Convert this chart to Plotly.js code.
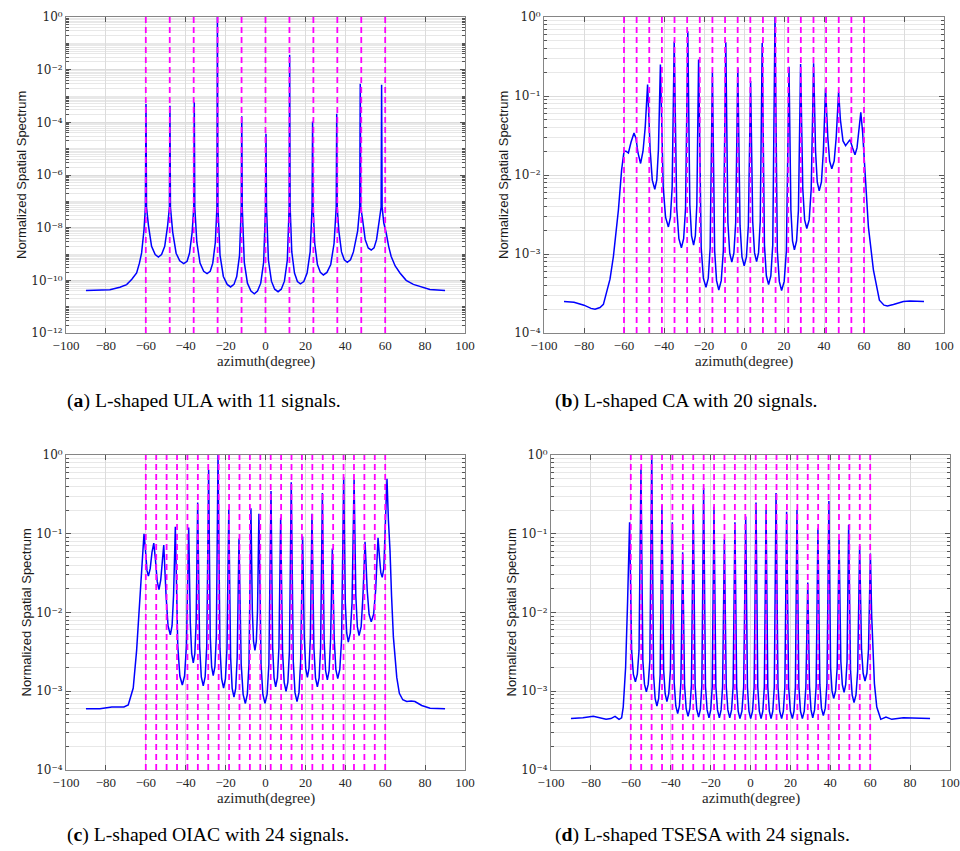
<!DOCTYPE html>
<html><head><meta charset="utf-8">
<script src="https://cdn.plot.ly/plotly-3.0.1.min.js"></script>
<style>html,body{margin:0;padding:0;background:#fff}#chart{width:960px;height:851px}</style>
</head><body><div id="chart"></div>
<script>
// ---------- Data ----------
// (a) L-shaped ULA, 11 signals
const azA = [-90,-84,-78,-73,-69.6,-67,-64.6,-63.2,-62.1,-60.9,-60.2,-59.9,
 -59.65,-58.66,-57.11,-55.3,-53.7,-52.1,-50.51,-49.06,-48.15,-47.9,
 -47.65,-46.52,-44.8,-43.0,-41.0,-39.3,-38.09,-36.76,-35.95,-35.7,
 -35.45,-34.42,-32.82,-31.0,-29.3,-27.7,-26.44,-25.14,-24.35,-24.1,
 -23.85,-22.78,-21.13,-19.2,-17.5,-15.8,-14.42,-13.02,-12.15,-11.9,
 -11.65,-10.64,-9.06,-7.3,-5.6,-4.0,-2.38,-0.92,0.0,0.25,
 0.5,1.46,2.97,4.6,6.3,7.9,9.49,10.94,11.85,12.1,
 12.35,13.18,14.53,16.0,17.5,19.2,20.85,22.38,23.35,23.6,
 23.85,24.68,26.03,27.5,29.0,30.8,32.7,34.36,35.45,35.7,
 35.95,36.76,38.09,39.5,41.0,42.6,44.07,46.2,47.25,47.5,
 47.75,48.6,49.98,51.5,53.0,54.4,55.66,57.16,57.95,58.2,
 58.45,59.3,60.5,61.7,63.0,65.0,67.4,70.5,74.1,82.4,90];
const specA = [4.1e-11,4.2e-11,4.4e-11,5.5e-11,6.9e-11,1.1e-10,1.9e-10,4.5e-10,1.1e-9,8.3e-9,6e-8,5e-4,
 6e-8,1.2e-8,1.95e-9,9.5e-10,7.7e-10,9.5e-10,1.95e-9,1.2e-8,6e-8,4.3e-4,
 6e-8,6.8e-9,1.07e-9,5.5e-10,4.3e-10,5.3e-10,1.07e-9,6.8e-9,6e-8,5.8e-4,
 6e-8,2.8e-9,4.5e-10,2.2e-10,1.8e-10,2.2e-10,4.5e-10,2.8e-9,6e-8,1,
 6e-8,8.9e-10,1.4e-10,7e-11,5.6e-11,7e-11,1.4e-10,8.9e-10,6e-8,1.7e-4,
 6e-8,4.9e-10,7.8e-11,3.9e-11,3.1e-11,3.9e-11,7.8e-11,4.9e-10,6e-8,3.7e-5,
 6e-8,5.9e-10,9.3e-11,4.6e-11,3.7e-11,4.6e-11,9.3e-11,5.9e-10,6e-8,3.7e-2,
 6e-8,1.2e-9,1.9e-10,9e-11,7.4e-11,9e-11,1.9e-10,1.2e-9,6e-8,1.07e-4,
 6e-8,2.5e-9,4e-10,2e-10,1.6e-10,2e-10,4e-10,2.5e-9,6e-8,2.1e-4,
 6e-8,7.6e-9,1.2e-9,6e-10,4.8e-10,6e-10,1.2e-9,7.6e-9,6e-8,2.9e-3,
 6e-8,2.2e-8,3.5e-9,1.7e-9,1.4e-9,1.7e-9,3.5e-9,2.2e-8,6e-8,2.7e-3,
 6e-8,1.5e-8,6.3e-9,2e-9,8e-10,3.5e-10,1.9e-10,1e-10,7e-11,4.5e-11,4.1e-11];
const doaA = [-60,-48,-36,-24,-12,0,12,24,36,48,60];

// (b) L-shaped CA, 20 signals
const azB = [-90,-85,-80,-76.5,-74.5,-72,-70.3,-68.7,-67,-65.3,
 -64,-62.8,-61.2,-60,-59,-57.8,-56.5,-55,-54,-53,
 -51.7,-50.5,-49.4,-48.2,-46.94,-45.86,-44.6,-43.62,-42.78,-41.8,
 -40.4,-39.2,-37.8,-36.79,-35.92,-34.9,-33.64,-32.56,-31.3,-30.18,
 -29.22,-28.1,-27.09,-26.22,-25.2,-24.33,-23.58,-22.7,-21.4,-20.3,
 -19.0,-17.88,-16.92,-15.8,-14.68,-13.72,-12.6,-11.38,-10.33,-9.1,
 -8.05,-7.15,-6.1,-5.05,-4.15,-3.1,-1.98,-1.02,0.1,1.22,
 2.18,3.3,4.35,5.25,6.3,7.28,8.12,9.1,10.22,11.18,
 12.3,13.42,14.38,15.5,16.66,17.65,18.8,20.1,21.2,22.5,
 23.45,24.26,25.2,26.29,27.22,28.3,29.39,30.32,31.4,32.59,
 33.61,34.8,35.78,36.62,37.6,38.72,39.68,40.8,41.9,42.82,
 43.9,45.09,46.11,47.3,48.2,49.5,50.8,52,53,54.3,
 55.5,56.5,57.5,58.4,59.3,60.5,62.2,64.7,67.7,70,
 71.7,74.7,79.7,83,90];
const specB = [2.5e-4,2.45e-4,2.25e-4,2.05e-4,2.0e-4,2.1e-4,2.3e-4,3.3e-4,4.8e-4,9.3e-4,
 1.8e-3,3.6e-3,1.15e-2,2.0e-2,2.0e-2,1.9e-2,2.6e-2,3.4e-2,2.9e-2,1.9e-2,
 1.4e-2,2.0e-2,4.0e-2,0.14,2.1e-2,8.6e-3,6.6e-3,8.6e-3,2.1e-2,0.25,
 7e-3,2.9e-3,2.2e-3,2.9e-3,7e-3,0.49,3.8e-3,1.56e-3,1.2e-3,1.56e-3,
 3.8e-3,0.66,4.2e-3,1.7e-3,1.3e-3,1.7e-3,4.2e-3,0.29,1.2e-3,4.9e-4,
 3.8e-4,4.9e-4,1.2e-3,0.2,1.1e-3,4.6e-4,3.5e-4,4.6e-4,1.1e-3,0.48,
 2.5e-3,1.03e-3,7.9e-4,1.03e-3,2.5e-3,0.23,2.3e-3,9.2e-4,7.1e-4,9.2e-4,
 2.3e-3,0.155,2.6e-3,1.04e-3,8e-4,1.04e-3,2.6e-3,0.47,1.3e-3,5.3e-4,
 4.1e-4,5.3e-4,1.3e-3,1.0,1.1e-3,4.5e-4,3.45e-4,4.5e-4,1.1e-3,0.235,
 3.6e-3,1.47e-3,1.13e-3,1.47e-3,3.6e-3,0.254,6.7e-3,2.7e-3,2.1e-3,2.7e-3,
 6.7e-3,0.26,2e-2,8.2e-3,6.3e-3,8.2e-3,2e-2,0.125,3e-2,1.5e-2,
 1.2e-2,1.5e-2,3e-2,0.113,5e-2,2.7e-2,2.35e-2,2.6e-2,2.8e-2,2.2e-2,
 1.8e-2,2.2e-2,3.8e-2,6.2e-2,3.5e-2,9.5e-3,2.2e-3,6.3e-4,2.6e-4,2.25e-4,
 2.2e-4,2.3e-4,2.5e-4,2.55e-4,2.5e-4];
const doaB = [-60,-53.68,-47.37,-41.05,-34.74,-28.42,-22.11,-15.79,-9.47,-3.16,
 3.16,9.47,15.79,22.11,28.42,34.74,41.05,47.37,53.68,60];

// (c) L-shaped OIAC, 24 signals
const azC = [-90,-83,-77,-71,-68.8,-66.3,-64.6,-62.9,-61.7,-60.9,
 -60.0,-59.4,-58.7,-57.8,-56.9,-56.0,-55.2,-54.3,-53.4,-52.5,
 -51.7,-51.0,-49.85,-48.86,-47.7,-46.83,-46.08,-45.2,-43.98,-42.93,
 -41.7,-40.58,-39.62,-38.5,-37.7,-37.0,-36.2,-35.43,-34.77,-34.0,
 -33.02,-32.18,-31.2,-30.26,-29.45,-28.5,-27.7,-27.0,-26.2,-25.36,
 -24.64,-23.8,-22.82,-21.98,-21.0,-20.09,-19.31,-18.4,-17.49,-16.71,
 -15.8,-14.93,-14.18,-13.3,-12.18,-11.22,-10.1,-9.12,-8.28,-7.3,
 -6.6,-6.0,-5.3,-4.6,-4.0,-3.3,-2.23,-1.32,-0.25,0.8,
 1.7,2.76,3.58,4.28,5.1,5.98,6.73,7.6,8.55,9.36,
 10.3,11.21,11.99,12.9,13.92,14.79,15.8,16.78,17.62,18.6,
 19.44,20.16,21.0,21.8,22.5,23.3,24.25,25.06,26.0,26.88,
 27.63,28.5,29.38,30.13,31.0,31.88,32.63,33.5,34.45,35.26,
 36.2,37.25,38.15,39.2,40.0,40.7,41.5,42.52,43.39,44.4,
 45.28,46.03,46.9,47.95,48.85,49.9,50.99,51.92,53.0,54.19,
 55.21,56.4,57.1,57.8,58.5,59.3,59.9,60.9,61.6,62.4,
 63.2,64.1,65.8,67.1,68.8,70.8,73,74.9,78.3,82.5,
 90];
const specC = [6.0e-4,6.0e-4,6.3e-4,6.3e-4,6.7e-4,1.1e-3,3.3e-3,1.75e-2,6.2e-2,0.1,
 5.5e-2,3.4e-2,2.9e-2,3.6e-2,5.8e-2,7.6e-2,4.8e-2,2.5e-2,1.95e-2,2.6e-2,
 4.5e-2,7.2e-2,1.66e-2,6.8e-3,5.2e-3,6.8e-3,1.66e-2,0.123,3.8e-3,1.56e-3,
 1.2e-3,1.56e-3,3.8e-3,0.12,7.4e-3,3e-3,2.3e-3,3e-3,7.4e-3,0.25,
 3.7e-3,1.52e-3,1.17e-3,1.52e-3,3.7e-3,0.65,5e-3,2.05e-3,1.58e-3,2.05e-3,
 5e-3,1.0,3.5e-3,1.43e-3,1.1e-3,1.43e-3,3.5e-3,0.204,2.7e-3,1.09e-3,
 8.4e-4,1.09e-3,2.7e-3,0.087,2.2e-3,9.1e-4,7.0e-4,9.1e-4,2.2e-3,0.21,
 1.05e-2,4.3e-3,3.3e-3,4.3e-3,1.05e-2,0.18,2.2e-3,9.1e-4,7.0e-4,9.1e-4,
 2.2e-3,0.35,3.6e-3,1.48e-3,1.14e-3,1.48e-3,3.6e-3,0.16,3.2e-3,1.3e-3,
 1.0e-3,1.3e-3,3.2e-3,0.45,2.4e-3,9.6e-4,7.4e-4,9.6e-4,2.4e-3,0.092,
 4.8e-3,1.95e-3,1.5e-3,1.95e-3,4.8e-3,0.18,3.6e-3,1.48e-3,1.14e-3,1.48e-3,
 3.6e-3,0.33,4.5e-3,1.82e-3,1.4e-3,1.82e-3,4.5e-3,0.065,4.6e-3,1.9e-3,
 1.45e-3,1.9e-3,4.6e-3,0.52,1.34e-2,5.5e-3,4.2e-3,5.5e-3,1.34e-2,0.49,
 1.63e-2,6.6e-3,5.1e-3,6.6e-3,1.63e-2,0.079,1.9e-2,9.5e-3,7.6e-3,9.5e-3,
 1.9e-2,0.089,5.2e-2,3.2e-2,2.8e-2,3.6e-2,0.1,0.5,0.15,0.062,
 1.6e-2,4.9e-3,1.5e-3,9.4e-4,7.8e-4,7.4e-4,7.5e-4,7.4e-4,6.6e-4,6.1e-4,
 6.0e-4];
const doaCD = [-60,-54.78,-49.57,-44.35,-39.13,-33.91,-28.70,-23.48,-18.26,-13.04,-7.83,-2.61,
 2.61,7.83,13.04,18.26,23.48,28.70,33.91,39.13,44.35,49.57,54.78,60];

// (d) L-shaped TSESA, 24 signals
const azD = [-90,-84,-78.8,-75,-72.4,-70,-67.9,-65.9,-64.6,-63.8,-62.6,-61.6,-60.6,
 -59.59,-58.72,-57.7,-56.72,-55.88,-54.9,
 -53.96,-53.15,-52.2,-51.26,-50.45,-49.5,
 -48.59,-47.81,-46.9,-46.03,-45.28,-44.4,
 -43.53,-42.78,-41.9,-40.96,-40.15,-39.2,
 -38.26,-37.45,-36.5,-35.63,-34.88,-34.0,
 -33.06,-32.25,-31.3,-30.39,-29.61,-28.7,
 -27.76,-26.95,-26.0,-25.13,-24.38,-23.5,
 -22.56,-21.75,-20.8,-19.93,-19.18,-18.3,
 -17.36,-16.55,-15.6,-14.73,-13.98,-13.1,
 -12.16,-11.35,-10.4,-9.49,-8.71,-7.8,
 -6.93,-6.18,-5.3,-4.29,-3.42,-2.4,
 -1.53,-0.78,0.1,1.03,1.83,2.76,
 3.65,4.41,5.3,6.18,6.93,7.8,
 8.68,9.43,10.3,11.18,11.93,12.8,
 13.78,14.62,15.6,16.48,17.23,18.1,
 19.12,19.99,21.0,21.81,22.5,23.3,
 24.25,25.06,26.0,26.95,27.76,28.7,
 29.58,30.33,31.2,32.11,32.89,33.8,
 34.75,35.56,36.5,37.48,38.32,39.3,
 40.14,40.86,41.7,42.65,43.46,44.4,
 45.28,46.03,46.9,47.71,48.4,49.2,
 50.15,50.96,51.9,52.88,53.72,54.7,
 55.65,56.46,57.4,58.35,59.16,60.1,
 60.75,62.1,63.3,65.3,67.9,70.8,76.6,83.3,90];
const specD = [4.5e-4,4.6e-4,4.8e-4,4.6e-4,4.4e-4,4.5e-4,4.8e-4,4.4e-4,4.6e-4,6.3e-4,2e-3,1.4e-2,0.14,
 3.3e-3,1.65e-3,1.32e-3,1.65e-3,3.3e-3,0.66,
 2.45e-3,1.23e-3,9.8e-4,1.23e-3,2.45e-3,1.0,
 1.63e-3,8.1e-4,6.5e-4,8.1e-4,1.63e-3,0.23,
 1.85e-3,9.3e-4,7.4e-4,9.3e-4,1.85e-3,0.14,
 1.3e-3,6.5e-4,5.2e-4,6.5e-4,1.3e-3,0.058,
 1.2e-3,6e-4,4.8e-4,6e-4,1.2e-3,0.23,
 1.18e-3,5.9e-4,4.7e-4,5.9e-4,1.18e-3,0.38,
 1.15e-3,5.8e-4,4.6e-4,5.8e-4,1.15e-3,0.22,
 1.15e-3,5.8e-4,4.6e-4,5.8e-4,1.15e-3,0.085,
 1.15e-3,5.8e-4,4.6e-4,5.8e-4,1.15e-3,0.14,
 1.13e-3,5.6e-4,4.5e-4,5.6e-4,1.13e-3,0.165,
 1.13e-3,5.6e-4,4.5e-4,5.6e-4,1.13e-3,0.25,
 1.13e-3,5.6e-4,4.5e-4,5.6e-4,1.13e-3,0.2,
 1.13e-3,5.6e-4,4.5e-4,5.6e-4,1.13e-3,0.33,
 1.13e-3,5.6e-4,4.5e-4,5.6e-4,1.13e-3,0.19,
 1.13e-3,5.6e-4,4.5e-4,5.6e-4,1.13e-3,0.2,
 1.13e-3,5.6e-4,4.5e-4,5.6e-4,1.13e-3,0.024,
 1.15e-3,5.8e-4,4.6e-4,5.8e-4,1.15e-3,0.117,
 1.23e-3,6.1e-4,4.9e-4,6.1e-4,1.23e-3,0.26,
 2e-3,1.01e-3,8.1e-4,1.01e-3,2e-3,0.083,
 2.4e-3,1.21e-3,9.7e-4,1.21e-3,2.4e-3,0.13,
 1.8e-3,9e-4,7.2e-4,9e-4,1.8e-3,0.07,
 3.4e-3,1.69e-3,1.35e-3,1.69e-3,3.4e-3,0.056,
 8.9e-3,1.26e-3,6.3e-4,4.4e-4,4.7e-4,4.4e-4,4.6e-4,4.5e-4,4.5e-4];

// Axis ticks and texts
const xTickVals = [-100,-80,-60,-40,-20,0,20,40,60,80,100];
const xTickText = ['\u2212100','\u221280','\u221260','\u221240','\u221220','0','20','40','60','80','100'];
const yTickValsA = [1e-12,1e-10,1e-8,1e-6,1e-4,1e-2,1];
const yTickTextA = ['10\u207B\u00B9\u00B2','10\u207B\u00B9\u2070','10\u207B\u2078','10\u207B\u2076','10\u207B\u2074','10\u207B\u00B2','10\u2070'];
const yTickValsB = [1e-4,1e-3,1e-2,1e-1,1];
const yTickTextB = ['10\u207B\u2074','10\u207B\u00B3','10\u207B\u00B2','10\u207B\u00B9','10\u2070'];
const yTitle = 'Normalized Spatial Spectrum';
const xTitle = 'azimuth(degree)';
const captions = ['(<b>a</b>) L-shaped ULA with 11 signals.',
                  '(<b>b</b>) L-shaped CA with 20 signals.',
                  '(<b>c</b>) L-shaped OIAC with 24 signals.',
                  '(<b>d</b>) L-shaped TSESA with 24 signals.'];

// ---------- Styling / layout ----------
function minorVals(lo, hi, majors) {
  const out = [];
  for (let k = lo; k < hi; k++) {
    for (let m = 1; m <= 9; m++) {
      const v = m * Math.pow(10, k);
      if (m === 1 && majors.some(t => Math.abs(Math.log10(t) - k) < 1e-9)) continue;
      out.push(v);
    }
  }
  return out;
}
const W = 960, H = 851;
const px = v => v / W, py = v => 1 - v / H;
const frame = '#858585', tickCol = '#555', gridCol = '#dcdcdc', minorCol = '#e8e8e8';
const xTickFont = {family: 'Liberation Serif, serif', size: 13, color: '#262626'};
const yTickFont = {family: 'DejaVu Serif, serif', size: 12, color: '#262626'};

function xAxis(dom, anchor) {
  return {domain: dom, anchor: anchor, range: [-100, 100], tickmode: 'array',
    tickvals: xTickVals, ticktext: xTickText, showgrid: true, gridcolor: gridCol, gridwidth: 1,
    zeroline: false, showline: true, linecolor: frame, linewidth: 1, mirror: 'ticks',
    ticks: 'inside', ticklen: 5, tickcolor: tickCol, tickfont: xTickFont, fixedrange: true,
    ticklabeloverflow: 'allow'};
}
function yAxis(dom, anchor, lo, tv, tt) {
  return {domain: dom, anchor: anchor, type: 'log', range: [lo, 0], tickmode: 'array',
    tickvals: tv, ticktext: tt, showgrid: true, gridcolor: gridCol, gridwidth: 1,
    zeroline: false, showline: true, linecolor: frame, linewidth: 1, mirror: 'ticks',
    ticks: 'inside', ticklen: 5, tickcolor: tickCol, tickfont: yTickFont, fixedrange: true,
    ticklabeloverflow: 'allow',
    minor: {tickmode: 'array', tickvals: minorVals(lo, 0, tv), showgrid: true,
            gridcolor: minorCol, gridwidth: 1, ticks: 'inside', ticklen: 3, tickcolor: tickCol}};
}

const lineStyle = {color: '#0000ff', width: 1.5};
const traces = [
  {x: azA, y: specA, xaxis: 'x', yaxis: 'y', type: 'scatter', mode: 'lines', line: lineStyle},
  {x: azB, y: specB, xaxis: 'x2', yaxis: 'y2', type: 'scatter', mode: 'lines', line: lineStyle},
  {x: azC, y: specC, xaxis: 'x3', yaxis: 'y3', type: 'scatter', mode: 'lines', line: lineStyle},
  {x: azD, y: specD, xaxis: 'x4', yaxis: 'y4', type: 'scatter', mode: 'lines', line: lineStyle}
];

const shapes = [];
function addDoa(list, xr, yr) {
  list.forEach(d => shapes.push({type: 'line', xref: xr, yref: yr + ' domain', x0: d, x1: d, y0: 0, y1: 1,
    layer: 'above', line: {color: '#ff00ff', width: 1.8, dash: '6px,4px'}}));
}
addDoa(doaA, 'x', 'y'); addDoa(doaB, 'x2', 'y2'); addDoa(doaCD, 'x3', 'y3'); addDoa(doaCD, 'x4', 'y4');

const annFontY = {family: 'Liberation Sans, Arial, sans-serif', size: 13, color: '#1a1a1a'};
const annFontX = {family: 'Liberation Serif, serif', size: 15, color: '#262626'};
const capFont = {family: 'Liberation Serif, serif', size: 19.7, color: '#000'};
const annotations = [
  {text: yTitle, x: px(22), y: py(175), textangle: -90, font: annFontY},
  {text: yTitle, x: px(504), y: py(175), textangle: -90, font: annFontY},
  {text: yTitle, x: px(26), y: py(612.5), textangle: -90, font: annFontY},
  {text: yTitle, x: px(511), y: py(612.5), textangle: -90, font: annFontY},
  {text: xTitle, x: px(265.5), y: py(361), font: annFontX},
  {text: xTitle, x: px(744), y: py(361), font: annFontX},
  {text: xTitle, x: px(265.5), y: py(798), font: annFontX},
  {text: xTitle, x: px(750.5), y: py(798), font: annFontX},
  {text: captions[0], x: px(65), y: py(401), xanchor: 'left', font: capFont},
  {text: captions[1], x: px(553), y: py(401), xanchor: 'left', font: capFont},
  {text: captions[2], x: px(65), y: py(834), xanchor: 'left', font: capFont},
  {text: captions[3], x: px(553), y: py(834), xanchor: 'left', font: capFont}
].map(a => Object.assign({xref: 'paper', yref: 'paper', showarrow: false, xanchor: 'center', yanchor: 'middle'}, a));

const layout = {
  width: W, height: H, margin: {l: 0, r: 0, t: 0, b: 0},
  paper_bgcolor: '#fff', plot_bgcolor: '#fff', showlegend: false,
  xaxis: xAxis([px(66), px(465)], 'y'),
  yaxis: yAxis([py(333), py(17)], 'x', -12, yTickValsA, yTickTextA),
  xaxis2: xAxis([px(544), px(944)], 'y2'),
  yaxis2: yAxis([py(333), py(17)], 'x2', -4, yTickValsB, yTickTextB),
  xaxis3: xAxis([px(66), px(465)], 'y3'),
  yaxis3: yAxis([py(770), py(455)], 'x3', -4, yTickValsB, yTickTextB),
  xaxis4: xAxis([px(551), px(950)], 'y4'),
  yaxis4: yAxis([py(770), py(455)], 'x4', -4, yTickValsB, yTickTextB),
  shapes: shapes, annotations: annotations
};
Plotly.newPlot('chart', traces, layout, {displayModeBar: false, staticPlot: true});
</script></body></html>
